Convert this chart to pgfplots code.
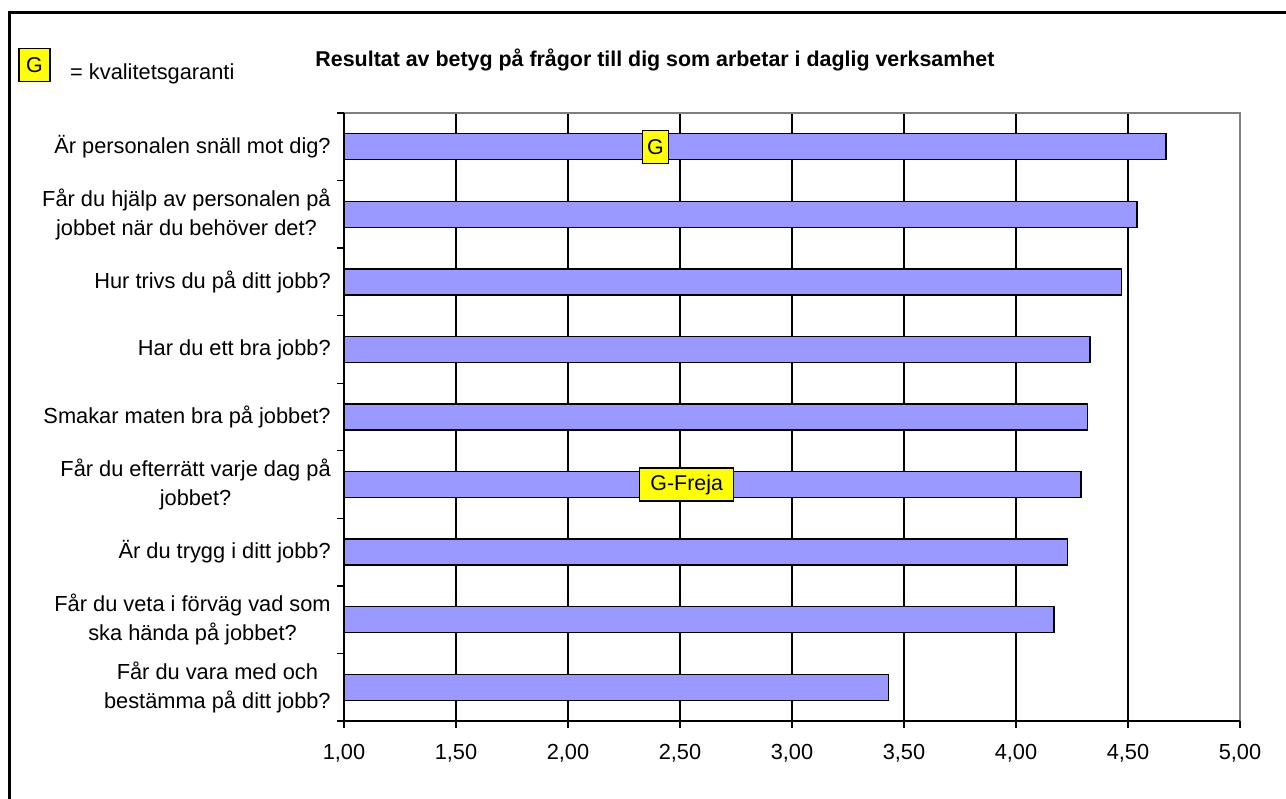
\documentclass[border=0pt]{standalone}
\usepackage{pgfplots}
\pgfplotsset{compat=1.18}
\usepackage{fontspec}
\setmainfont{Liberation Sans}
\definecolor{barblue}{HTML}{9999FF}
\definecolor{gbox}{HTML}{FFFF00}

\begin{document}
\begin{tikzpicture}[x=1pt,y=1pt]
\useasboundingbox (0,0) rectangle (1286,-799);
\fontsize{21.4}{24.5}\selectfont

% frame (left and top edge)
\draw[line width=3pt] (9.5,-830) -- (9.5,-12.5) -- (1300,-12.5);

% title and key
\node[anchor=base, font=\bfseries] at (655,-67) {Resultat av betyg på frågor till dig som arbetar i daglig verksamhet};
\node[draw=black, line width=1.2pt, fill=gbox, minimum width=31pt, minimum height=33pt, inner sep=0pt] at (34.5,-65) {G};
\node[anchor=base west, inner sep=0pt, font=\fontsize{21.8}{24.5}\selectfont] at (70,-80) {= kvalitetsgaranti};

\begin{axis}[
    at={(344pt,-721pt)}, anchor=south west,
    scale only axis, width=896pt, height=608pt,
    xbar, bar width=26pt,
    xmin=1, xmax=5,
    ymin=-0.5, ymax=8.5, y dir=reverse,
    axis line style={draw=none},
    xtick={1,1.5,...,5},
    xtick pos=bottom, ytick pos=left,
    /pgf/number format/fixed,
    /pgf/number format/fixed zerofill,
    /pgf/number format/precision=2,
    /pgf/number format/use comma,
    /pgf/number format/assume math mode=true,
    xticklabel style={font=\fontsize{21.8}{24.5}\selectfont, yshift=-9pt},
    xmajorgrids, grid style={black, line width=1.3pt},
    tick align=outside, major tick length=7pt,
    tick style={black, line width=1.3pt},
    ytick={-0.5,0.5,...,8.5}, yticklabels={},
    extra y ticks={0,1,...,8},
    extra y tick style={major tick length=0pt, grid=none},
    extra y tick labels={
        Är personalen snäll mot dig?,
        {Får du hjälp av personalen på\\[4pt]jobbet när du behöver det?},
        Hur trivs du på ditt jobb?,
        Har du ett bra jobb?,
        Smakar maten bra på jobbet?,
        {Får du efterrätt varje dag på\\[4pt]jobbet?},
        Är du trygg i ditt jobb?,
        {Får du veta i förväg vad som\\[4pt]ska hända på jobbet?},
        {Får du vara med och\\[4pt]bestämma på ditt jobb?}},
    yticklabel style={align=center, font=\fontsize{21.8}{24.5}\selectfont, xshift=-6pt},
    clip=false,
]
\addplot[fill=barblue, draw=black, line width=1.3pt] coordinates {
(4.67,0) (4.54,1) (4.47,2) (4.33,3) (4.32,4) (4.29,5) (4.23,6) (4.17,7) (3.43,8)
};
% plot area border
\draw[gray, line width=1.6pt] (rel axis cs:0,1) -- (rel axis cs:1,1) -- (rel axis cs:1,0);
\draw[black, line width=1.6pt] (rel axis cs:0,1) -- (rel axis cs:0,0) -- (rel axis cs:1,0);
% quality marks
\node[draw=black, line width=1.2pt, fill=gbox, minimum width=26pt, minimum height=33pt, inner sep=0pt] at (axis cs:2.39,0) {G};
\node[draw=black, line width=1.2pt, fill=gbox, minimum width=94pt, minimum height=33pt, inner sep=0pt] at (axis cs:2.53,5) {G-Freja};
\end{axis}
\end{tikzpicture}
\end{document}
